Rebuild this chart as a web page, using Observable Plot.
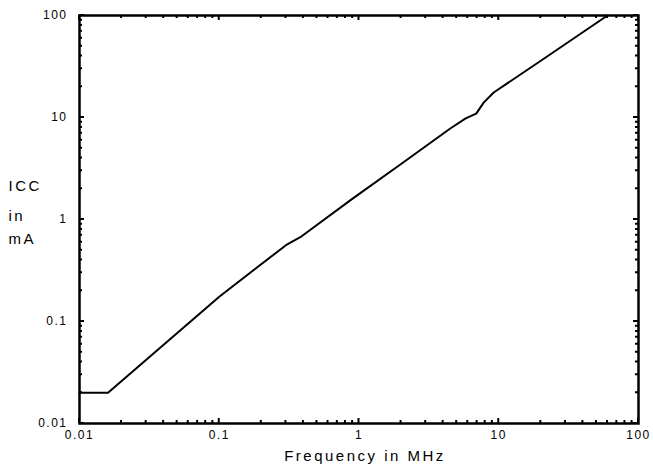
<!DOCTYPE html>
<html>
<head>
<meta charset="utf-8">
<script src="https://cdn.jsdelivr.net/npm/d3@7"></script>
<script src="https://cdn.jsdelivr.net/npm/@observablehq/plot@0.6"></script>
<style>
  html, body { margin: 0; padding: 0; background: #fff; }
</style>
</head>
<body>
<div id="chart"></div>
<script>
// Frequency (MHz) vs ICC (mA)
const freq = [0.01, 0.016, 0.1, 0.3, 0.38, 0.9, 2, 4.5, 5.8, 6.9, 7.8, 9.2, 20, 60];
const icc  = [0.02, 0.02, 0.175, 0.56, 0.67, 1.6, 3.5, 7.8, 9.8, 10.9, 14, 17.6, 36, 100];

const majorTicks = [0.01, 0.1, 1, 10, 100];
const tickLabels = ["0.01", "0.1", "1", "10", "100"];
const minorTicks = [];
for (const d of [0.01, 0.1, 1, 10]) for (let k = 2; k <= 9; k++) minorTicks.push(+(d * k).toPrecision(3));

const xTitle = "Frequency in MHz";
const yTitle = ["ICC", "in", "mA"];

const data = freq.map((f, i) => ({f, v: icc[i]}));
const fmt = d => tickLabels[majorTicks.indexOf(d)];

const font = "'Liberation Sans', Arial, sans-serif";

const W = 653, H = 472, mL = 79, mR = 15, mT = 15, mB = 49;

const chart = Plot.plot({
  width: W,
  height: H,
  marginLeft: mL,
  marginRight: mR,
  marginTop: mT,
  marginBottom: mB,
  style: {fontFamily: font, fontSize: "12px", color: "#000"},
  x: {type: "log", domain: [0.01, 100]},
  y: {type: "log", domain: [0.01, 100]},
  marks: [
    Plot.frame({stroke: "#000", strokeWidth: 2.5, fill: "none"}),
    Plot.axisX({anchor: "bottom", ticks: majorTicks, tickSize: 0, tickPadding: 7, tickFormat: fmt, label: null, fontSize: 12}),
    Plot.axisY({anchor: "left", ticks: majorTicks, tickSize: 0, tickPadding: 12, tickFormat: fmt, label: null, fontSize: 12}),
    Plot.line(data, {x: "f", y: "v", stroke: "#000", strokeWidth: 2}),
    Plot.text([xTitle], {frameAnchor: "bottom", dy: 37, dx: 6, fontSize: 15, text: d => d}),
    Plot.text([yTitle[0]], {frameAnchor: "left", textAnchor: "start", dx: -71, dy: -33, fontSize: 15, text: d => d}),
    Plot.text([yTitle[1]], {frameAnchor: "left", textAnchor: "start", dx: -71, dy: -3, fontSize: 15, text: d => d}),
    Plot.text([yTitle[2]], {frameAnchor: "left", textAnchor: "start", dx: -71, dy: 20, fontSize: 15, text: d => d})
  ]
});

// inward ticks on all four sides, positioned through Plot's own scales
const sx = chart.scale("x"), sy = chart.scale("y");
const x0 = mL, x1 = W - mR, y0 = mT, y1 = H - mB;
let p = "";
for (const [ticks, len] of [[majorTicks, 5], [minorTicks, 3]]) {
  for (const t of ticks) {
    const X = sx.apply(t), Y = sy.apply(t);
    p += `M${X},${y1}V${y1 - len}M${X},${y0}V${y0 + len}`;
    p += `M${x0},${Y}H${x0 + len}M${x1},${Y}H${x1 - len}`;
  }
}
d3.select(chart).append("path")
  .attr("d", p)
  .attr("fill", "none")
  .attr("stroke", "#000")
  .attr("stroke-width", 2);

d3.select(chart).selectAll("text").style("letter-spacing", "1.5px");
d3.select(chart).selectAll("g[font-size='15'] text").style("letter-spacing", "2.5px");
document.getElementById("chart").appendChild(chart);
</script>
</body>
</html>
